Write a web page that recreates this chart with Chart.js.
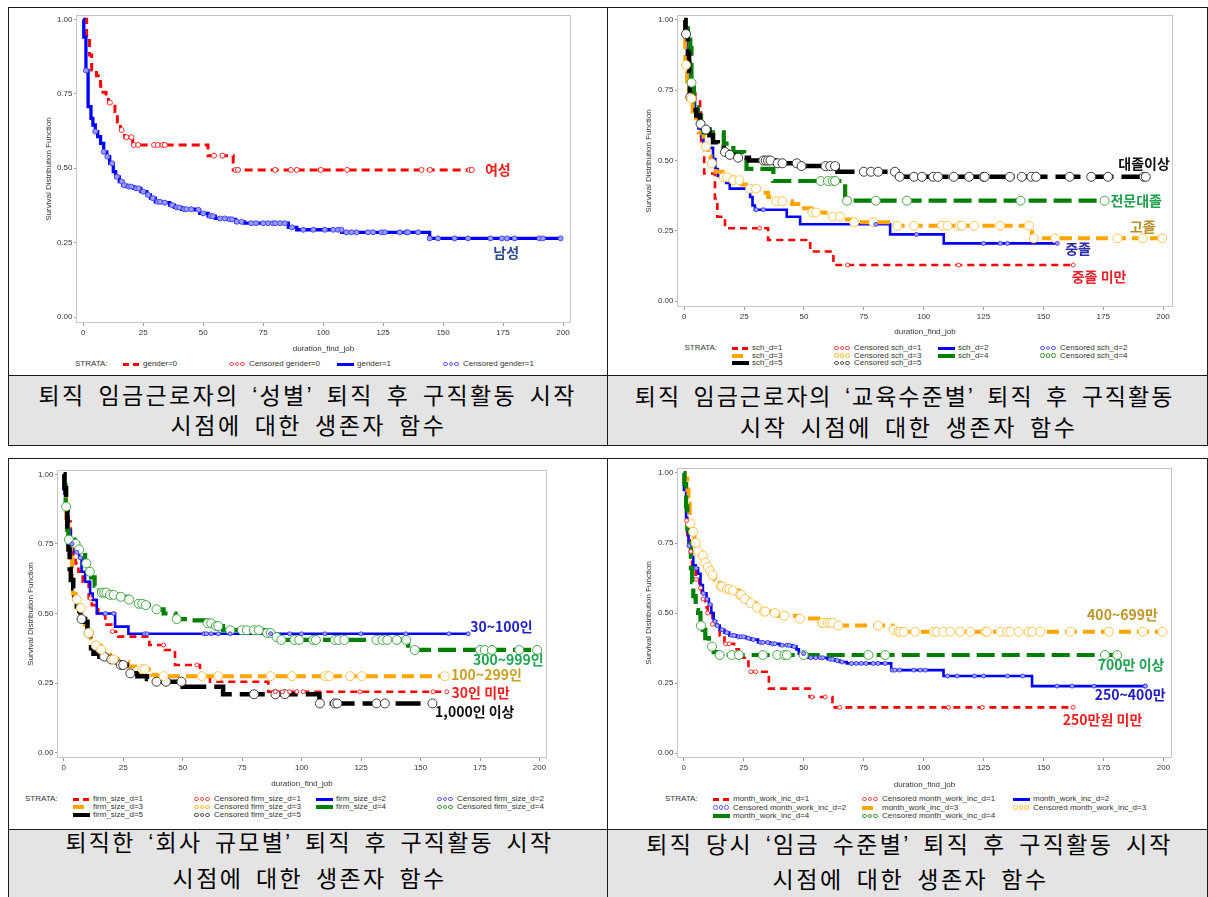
<!DOCTYPE html>
<html lang="ko">
<head>
<meta charset="utf-8">
<title>생존자 함수</title>
<script src="https://cdn.jsdelivr.net/npm/chart.js@4.4.1/dist/chart.umd.min.js"></script>
<style>
html,body{margin:0;padding:0;background:#fff;}
body{position:relative;width:1208px;height:897px;overflow:hidden;}
canvas{position:absolute;z-index:2;}
.bg{position:absolute;background:#e4e4e4;z-index:1;}
.ln{position:absolute;background:#1a1a1a;z-index:5;}
.cap{position:absolute;z-index:3;white-space:nowrap;font-family:"Noto Sans CJK KR","Noto Sans",sans-serif;font-size:23px;line-height:24px;color:#000;word-spacing:4px;}
.q{font-family:"Liberation Sans",Arial,sans-serif;}
.lg{position:absolute;z-index:3;white-space:nowrap;font-family:"Liberation Sans",Arial,sans-serif;font-size:8px;line-height:8px;height:8px;color:#333;}
.sym{position:absolute;top:0;left:0;height:8px;width:17px;}
.bar{position:absolute;}
.dot{position:absolute;box-sizing:border-box;width:4.5px;height:4.5px;border-radius:50%;border:1px solid;top:1.8px;}
</style>
</head>
<body>
<script>
// ---------------- DATA ----------------
const xTickValues = [0, 25, 50, 75, 100, 125, 150, 175, 200];
const xTickLabels = ['0', '25', '50', '75', '100', '125', '150', '175', '200'];
const yTickValues = [0, 0.25, 0.5, 0.75, 1];
const yTickLabels = ['0.00', '0.25', '0.50', '0.75', '1.00'];
const xAxisTitle = 'duration_find_job';
const yAxisTitle = 'Survival Distribution Function';
const strataLabel = 'STRATA:';

// Panel 1 : gender
const genderStrata = ['gender=0', 'gender=1'];
const genderLabels = ['여성', '남성'];
const gender0Time = [0, 1.4, 2.6, 3.5, 5.5, 7.2, 8.2, 9.5, 10.5, 13.2, 14.2, 15.5, 17.2, 20.6, 52, 62.5, 162];
const gender0Surv = [1, 0.94, 0.88, 0.83, 0.81, 0.775, 0.755, 0.74, 0.72, 0.69, 0.655, 0.628, 0.604, 0.578, 0.542, 0.494, 0.494];
const gender0Cens = [11.1, 16, 18, 20.1, 21.1, 22.9, 29.5, 31, 33, 34, 54.5, 58, 63.5, 64.5, 80, 86.5, 89, 99, 110, 141, 144.5, 161, 162];
const gender1Time = [0, 0.2, 1.1, 2, 3.2, 4, 5, 6, 7.2, 8.5, 9.8, 11, 12.5, 13.5, 15, 16.5, 18, 21, 24, 26.5, 28, 30, 33, 36, 38, 41, 46.5, 48.5, 52, 55, 60, 63.5, 67, 85.5, 89, 107.7, 144.4, 199];
const gender1Surv = [1, 0.94, 0.828, 0.707, 0.667, 0.645, 0.623, 0.606, 0.583, 0.555, 0.539, 0.516, 0.488, 0.471, 0.455, 0.443, 0.438, 0.432, 0.421, 0.41, 0.399, 0.387, 0.384, 0.376, 0.368, 0.362, 0.36, 0.348, 0.339, 0.331, 0.328, 0.32, 0.315, 0.301, 0.293, 0.2845, 0.264, 0.264];
const gender1Cens = [1.1, 5, 8.5, 10, 12, 14, 16, 17, 19, 20, 22, 23, 25, 27, 29, 31, 32, 34, 37, 39, 40, 42, 43, 45, 48, 50, 53, 54, 57, 59, 61, 62, 64, 66, 70, 72, 75, 77, 79, 80, 82, 84, 87, 91.7, 95.9, 100.7, 104.2, 106.2, 107.6, 109.7, 111.8, 113.9, 118.7, 120.8, 124.3, 125.7, 131.9, 134.7, 135.4, 139.6, 144.4, 147.9, 154.8, 160.4, 169.8, 174.5, 176.6, 179.8, 190.2, 191.6, 199];

// Panel 2 : education
const schStrata = ['sch_d=1', 'sch_d=2', 'sch_d=3', 'sch_d=4', 'sch_d=5'];
const schLabels = ['중졸 미만', '중졸', '고졸', '전문대졸', '대졸이상'];
const sch1Time = [0, 0.5, 1.2, 1.8, 2.6, 4.6, 6.6, 7, 8.3, 12.8, 13.8, 17, 35, 52.6, 62.3, 162.5];
const sch1Surv = [1, 0.95, 0.88, 0.8, 0.74, 0.71, 0.69, 0.56, 0.454, 0.365, 0.30, 0.259, 0.217, 0.176, 0.128, 0.128];
const sch1Cens = [31.4, 68.2, 114.6, 162.5];
const sch2Time = [0, 0.3, 1, 1.5, 2.5, 3.5, 4.5, 5.9, 7.3, 8, 9.5, 12, 13, 14, 17.5, 19, 27.5, 28.5, 29.5, 42.8, 48.4, 86, 108.4, 155.8];
const sch2Surv = [1, 0.96, 0.9, 0.85, 0.78, 0.72, 0.68, 0.614, 0.58, 0.56, 0.545, 0.505, 0.47, 0.445, 0.42, 0.40, 0.37, 0.34, 0.325, 0.30, 0.273, 0.237, 0.205, 0.205];
const sch2Cens = [30, 33, 80, 97, 125, 132, 135, 155.8];
const sch3Time = [0, 0.4, 1.2, 2, 3.5, 6, 8, 10, 11, 13, 16, 20, 24, 27, 31, 35, 38, 45, 50, 53, 59, 66, 70, 86, 145.3, 199.7];
const sch3Surv = [1, 0.84, 0.78, 0.72, 0.65, 0.6, 0.55, 0.515, 0.49, 0.46, 0.44, 0.43, 0.415, 0.40, 0.385, 0.37, 0.355, 0.345, 0.33, 0.315, 0.30, 0.29, 0.28, 0.268, 0.223, 0.223];
const sch3Cens = [0.7, 3, 9, 11.5, 16.5, 18, 20.5, 23, 27.5, 30, 38.5, 41, 53.5, 55, 62, 65, 71, 79, 89, 96, 107.7, 110, 115, 116, 121, 132, 144, 146, 155, 181, 191.5, 199.7];
const sch4Time = [0, 0.5, 1.5, 2.5, 3, 4, 5.5, 7, 8, 16.5, 20.5, 25, 26, 37.2, 67.2, 175.6];
const sch4Surv = [1, 0.97, 0.93, 0.9, 0.777, 0.69, 0.66, 0.62, 0.60, 0.56, 0.53, 0.51, 0.47, 0.427, 0.357, 0.357];
const sch4Cens = [3, 57, 60, 62, 63, 68, 80, 93, 140.5, 175.6];
const sch5Time = [0, 0.5, 1.5, 2, 2.3, 3.5, 5, 6.5, 8.5, 10.5, 12, 14, 16.5, 18.5, 22, 27, 38, 48, 64, 89, 192.8];
const sch5Surv = [1, 0.95, 0.88, 0.8, 0.725, 0.68, 0.66, 0.63, 0.61, 0.59, 0.565, 0.545, 0.53, 0.52, 0.51, 0.50, 0.49, 0.48, 0.46, 0.442, 0.442];
const sch5Cens = [0.7, 2.5, 6.8, 9, 17, 19, 22.5, 33, 34, 35, 36, 39, 41, 47, 49, 59, 61, 63, 75, 78, 81, 88, 90, 96, 99.3, 104, 106, 112.6, 119, 125, 125.5, 136, 141, 145, 147, 161, 170, 177, 192, 192.8];

// Panel 3 : firm size
const firmStrata = ['firm_size_d=1', 'firm_size_d=2', 'firm_size_d=3', 'firm_size_d=4', 'firm_size_d=5'];
const firmLabels = ['30인 미만', '30~100인', '100~299인', '300~999인', '1,000인 이상'];
const firm1Time = [0, 0.5, 1, 2, 3, 4, 5, 6.2, 8, 10.5, 11.8, 14.5, 17.5, 20, 23, 36, 42.5, 46.8, 57.3, 61.5, 86, 161];
const firm1Surv = [1, 0.95, 0.9, 0.83, 0.75, 0.70, 0.68, 0.65, 0.614, 0.555, 0.53, 0.495, 0.46, 0.435, 0.417, 0.387, 0.369, 0.315, 0.279, 0.255, 0.219, 0.219];
const firm1Cens = [11.2, 20.5, 42, 56, 89, 92, 95, 98, 100.7, 124.5, 155.3, 161];
const firm2Time = [0, 0.3, 1, 2, 3, 4.5, 6.5, 7.5, 9, 11.1, 12.2, 13.9, 21.6, 27.2, 170];
const firm2Surv = [1, 0.93, 0.85, 0.80, 0.75, 0.72, 0.70, 0.65, 0.614, 0.572, 0.549, 0.50, 0.453, 0.427, 0.427];
const firm2Cens = [3.5, 5.5, 7, 17.5, 21, 34, 35, 59, 60, 62, 65, 70, 87, 95, 100, 109.8, 124.9, 143.8, 161.9, 170];
const firm3Time = [0, 0.3, 1, 2, 3, 3.5, 4, 5, 6, 7, 7.5, 9, 10, 11.5, 13, 15.5, 17, 19.5, 23, 27, 30, 37, 39, 160.5];
const firm3Surv = [1, 0.96, 0.83, 0.75, 0.70, 0.62, 0.57, 0.55, 0.53, 0.52, 0.475, 0.46, 0.43, 0.41, 0.385, 0.37, 0.35, 0.335, 0.325, 0.31, 0.30, 0.28, 0.275, 0.275];
const firm3Cens = [5.5, 7.2, 10.5, 13.5, 15.8, 21, 33, 34, 42, 58, 65, 87, 96, 110, 111.6, 120.3, 125.2, 160.2];
const firm4Time = [0, 0.3, 0.8, 1.5, 2, 4.5, 6, 7.5, 9, 10, 11.5, 13, 15, 19, 23, 27, 31, 34, 37, 42, 47, 52, 60, 63, 67, 85, 89, 91, 144.8, 199];
const firm4Surv = [1, 0.96, 0.884, 0.80, 0.765, 0.75, 0.73, 0.71, 0.68, 0.65, 0.63, 0.60, 0.575, 0.567, 0.56, 0.55, 0.535, 0.53, 0.515, 0.50, 0.48, 0.475, 0.465, 0.455, 0.44, 0.43, 0.415, 0.405, 0.369, 0.369];
const firm4Cens = [1, 2.2, 5, 6.5, 9.5, 11, 16, 17, 18, 19.5, 21, 24, 27.5, 31.5, 33, 34.5, 39, 47.5, 60.5, 62, 64, 65, 70, 75, 77, 80, 82, 85.5, 87, 89.5, 91.5, 97, 99, 104.9, 106, 114, 115.5, 118, 131.5, 134, 136, 140, 144, 147.6, 175, 177, 180, 191.5, 199];
const firm5Time = [0, 0.3, 1, 1.5, 2, 2.5, 3, 4, 4.5, 5.5, 6.5, 7, 9, 10, 11, 11.5, 12.5, 15, 18, 22, 24, 26.5, 28, 31, 35, 37, 50, 67, 107.5, 155];
const firm5Surv = [1, 0.95, 0.88, 0.80, 0.73, 0.66, 0.62, 0.59, 0.555, 0.525, 0.51, 0.48, 0.47, 0.43, 0.40, 0.375, 0.355, 0.345, 0.335, 0.325, 0.315, 0.30, 0.285, 0.275, 0.265, 0.255, 0.237, 0.21, 0.177, 0.177];
const firm5Cens = [7.5, 10.5, 17, 20, 24, 25, 28, 39, 43, 49.5, 80, 89, 93, 107.7, 114, 115, 131.5, 135, 155];

// Panel 4 : wage level
const incStrata = ['month_work_inc_d=1', 'month_work_inc_d=2', 'month_work_inc_d=3', 'month_work_inc_d=4'];
const incLabels = ['250만원 미만', '250~400만', '400~699만', '700만 이상'];
const inc1Time = [0, 0.3, 1, 1.5, 2.5, 3.5, 5, 6.5, 7.5, 9, 10, 12, 14, 15, 17, 21, 23, 27, 35.5, 52.5, 62, 162.3];
const inc1Surv = [1, 0.92, 0.83, 0.76, 0.72, 0.67, 0.62, 0.59, 0.55, 0.52, 0.50, 0.46, 0.44, 0.42, 0.39, 0.37, 0.34, 0.29, 0.23, 0.20, 0.163, 0.163];
const inc1Cens = [1.2, 3, 5.2, 7, 8, 10, 12, 17.5, 19, 28, 30, 53.5, 59, 65, 110.4, 124.4, 162.3];
const inc2Time = [0, 0.1, 1, 1.5, 2, 3, 4, 5, 6, 7, 8, 9.5, 10.5, 11.5, 12.5, 13.5, 15, 17, 19, 22, 26, 28, 31, 36, 40, 45, 47, 48, 51, 52, 60, 63, 65, 68, 86.5, 108.3, 145.2, 192.5];
const inc2Surv = [1, 0.94, 0.84, 0.79, 0.74, 0.70, 0.67, 0.66, 0.64, 0.60, 0.57, 0.55, 0.53, 0.50, 0.47, 0.455, 0.44, 0.43, 0.42, 0.415, 0.41, 0.405, 0.395, 0.39, 0.385, 0.38, 0.37, 0.355, 0.35, 0.34, 0.335, 0.33, 0.325, 0.32, 0.296, 0.275, 0.239, 0.239];
const inc2Cens = [2.2, 5.2, 8.2, 9.7, 11, 13, 14, 16, 18, 20, 21, 23, 24, 25, 27, 29, 32, 33, 35, 37, 38, 41, 43, 44, 46, 50, 53, 55, 57, 58, 61, 62, 64, 66, 70, 72, 74, 76, 79, 81, 84, 87, 88, 90, 95.9, 98.6, 100.7, 110, 114, 121.2, 125, 135, 141.3, 155.6, 161.9, 171, 192.2, 192.5];
const inc3Time = [0, 0.5, 1.5, 2, 2.5, 3.5, 4.5, 5.5, 7, 8.5, 9.5, 10.5, 11.5, 13, 15, 17, 20, 23, 25, 27, 30, 33, 37, 39, 48, 57.5, 64, 87, 89, 199.5];
const inc3Surv = [1, 0.98, 0.94, 0.89, 0.82, 0.79, 0.75, 0.72, 0.705, 0.68, 0.665, 0.65, 0.635, 0.62, 0.595, 0.585, 0.58, 0.565, 0.55, 0.535, 0.52, 0.505, 0.50, 0.49, 0.48, 0.465, 0.455, 0.44, 0.433, 0.433];
const inc3Cens = [2.8, 4, 5, 6, 8, 9, 10, 11, 12, 15.5, 16, 18, 19, 20.5, 23.5, 24, 25.5, 28, 30.5, 33.5, 34, 38, 42, 48.5, 57.8, 58, 60, 61, 62, 64.5, 81, 87.5, 89.5, 90.3, 91.7, 96.5, 104.2, 105.5, 108.3, 111.1, 115.3, 119.5, 125.7, 126.4, 132, 134.8, 136.2, 139.6, 143.8, 145.2, 148.7, 161.2, 177.2, 191.4, 199.5];
const inc4Time = [0, 0.3, 1, 1.5, 2.5, 3, 3.5, 4, 5, 6, 7, 8, 9, 10.5, 11.5, 12.5, 14, 180.7];
const inc4Surv = [1, 0.96, 0.88, 0.80, 0.75, 0.66, 0.61, 0.56, 0.51, 0.50, 0.455, 0.44, 0.41, 0.40, 0.38, 0.36, 0.35, 0.35];
const inc4Cens = [7.2, 11.8, 15, 20, 23, 33, 39, 42, 43, 50, 77, 84, 175.6, 180.7];

const captions = [
  ['퇴직 임금근로자의 ‘성별’ 퇴직 후 구직활동 시작', '시점에 대한 생존자 함수'],
  ['퇴직 임금근로자의 ‘교육수준별’ 퇴직 후 구직활동', '시작 시점에 대한 생존자 함수'],
  ['퇴직한 ‘회사 규모별’ 퇴직 후 구직활동 시작', '시점에 대한 생존자 함수'],
  ['퇴직 당시 ‘임금 수준별’ 퇴직 후 구직활동 시작', '시점에 대한 생존자 함수']
];

// ---------------- STYLES ----------------
const FF = '"Liberation Sans", Arial, sans-serif';
const KF = '"Noto Sans CJK KR", "Noto Sans", sans-serif';
const ST = {
  red1:   {color:'#ff0000', w:3,   dash:[8,5],  censR:2.5, censStroke:'#ff2a2a', censFill:'#ffffff', legDash:[6,4], legW:3, legCens:'#ff5050', z:2},
  blue1:  {color:'#0000ff', w:3.3, dash:[],     censR:2.5, censStroke:'#4848ff', censFill:'#9c9cff', legDash:[],   legW:3, legCens:'#5a5aff', z:1},
  red:    {color:'#ff0000', w:2.6, dash:[7,5],  censR:2,   censStroke:'#ff3030', censFill:'#ffffff', legDash:[6,4], legW:3, legCens:'#ff5050', z:5},
  blue:   {color:'#0000ff', w:2.6, dash:[],     censR:2,   censStroke:'#4040ff', censFill:'#a8a8ff', legDash:[],   legW:3, legCens:'#5a5aff', z:4},
  orange: {color:'#ffa500', w:4,   dash:[12,6], censR:4.5, censStroke:'#ffc44d', censFill:'#ffffff', legDash:[11,7], legW:4, legCens:'#ffbb33', z:3},
  green:  {color:'#008000', w:4.2, dash:[18,7], censR:4.5, censStroke:'#44a844', censFill:'#ffffff', legDash:[],   legW:4, legCens:'#3a9a3a', z:2},
  black:  {color:'#000000', w:4.5, dash:[25,8], censR:4.5, censStroke:'#3a3a3a', censFill:'#ffffff', legDash:[],   legW:4.5, legCens:'#555555', z:1}
};

const panels = [
  {strata:genderStrata, labels:genderLabels, styles:[ST.red1, ST.blue1],
   time:[gender0Time, gender1Time], surv:[gender0Surv, gender1Surv], cens:[gender0Cens, gender1Cens]},
  {strata:schStrata, labels:schLabels, styles:[ST.red, ST.blue, ST.orange, ST.green, ST.black],
   time:[sch1Time, sch2Time, sch3Time, sch4Time, sch5Time], surv:[sch1Surv, sch2Surv, sch3Surv, sch4Surv, sch5Surv], cens:[sch1Cens, sch2Cens, sch3Cens, sch4Cens, sch5Cens]},
  {strata:firmStrata, labels:firmLabels, styles:[ST.red, ST.blue, ST.orange, ST.green, ST.black],
   time:[firm1Time, firm2Time, firm3Time, firm4Time, firm5Time], surv:[firm1Surv, firm2Surv, firm3Surv, firm4Surv, firm5Surv], cens:[firm1Cens, firm2Cens, firm3Cens, firm4Cens, firm5Cens]},
  {strata:incStrata, labels:incLabels, styles:[ST.red, ST.blue, ST.orange, ST.green],
   time:[inc1Time, inc2Time, inc3Time, inc4Time], surv:[inc1Surv, inc2Surv, inc3Surv, inc4Surv], cens:[inc1Cens, inc2Cens, inc3Cens, inc4Cens]}
];

// ---------------- LAYOUT ----------------
const layouts = [
  {cell:[8,8], frame:{l:77,t:16,r:570,b:322}, x0:83.3, x200:563, y1:19.3, y0:317, yTitleX:49, xTitleY:349,
   legend:{strataX:75, cols:[123,229,337,443], rows:[364]},
   caption:[[38.6,574.4,396],[170.6,444,426]],
   labelAt:[[172.8,0.494],[176.3,0.215]], labelColor:['#f21c1c','#2c4a92']},
  {cell:[608,8], frame:{l:678,t:16,r:1172,b:306}, x0:684.3, x200:1163, y1:20, y0:301, yTitleX:649, xTitleY:332,
   legend:{strataX:684.5, cols:[732,834,938,1040], rows:[348,355.5,363]},
   caption:[[634.8,1172.5,397],[740,1075,428]],
   labelAt:[[173.3,0.085],[164.5,0.185],[191.5,0.263],[188.8,0.356],[192.1,0.4875]],
   labelColor:['#e8202a','#2a2aa5','#b8902a','#21a04f','#111111']},
  {cell:[8,458], frame:{l:58,t:471,r:546,b:757}, x0:63.7, x200:539.5, y1:474.3, y0:752.7, yTitleX:31, xTitleY:784,
   legend:{strataX:25, cols:[73,194,316,437], rows:[799,807,815]},
   caption:[[65.4,551.4,843],[172.6,444.3,879]],
   labelAt:[[175.3,0.2144],[184,0.4515],[177.7,0.279],[186.9,0.333],[172.8,0.146]],
   labelColor:['#f02020','#2222cc','#c9a020','#1ea552','#111111']},
  {cell:[608,458], frame:{l:678,t:469,r:1171,b:757}, x0:683.7, x200:1163.5, y1:473, y0:753, yTitleX:649, xTitleY:784.5,
   legend:{strataX:665, cols:[713,862,1013], rows:[799,807.5,816]},
   caption:[[646.3,1170.6,845],[772.6,1046.2,880]],
   labelAt:[[174.6,0.118],[186.1,0.207],[182.9,0.493],[186.5,0.314]],
   labelColor:['#f02020','#2020c0','#c0952a','#20a050']}
];

// ---------------- HELPERS ----------------
function el(cls, x, y, w, h) {
  const d = document.createElement('div'); d.className = cls;
  d.style.left = x + 'px'; d.style.top = y + 'px';
  if (w != null) d.style.width = w + 'px';
  if (h != null) d.style.height = h + 'px';
  document.body.appendChild(d); return d;
}
function survAt(T, S, t) { let v = S[0]; for (let i = 0; i < T.length && T[i] <= t; i++) v = S[i]; return v; }

function legendItem(x, y, kind, st, text) {
  const d = el('lg', x, y - 4);
  d.style.paddingLeft = '20px';
  d.textContent = text;
  const s = document.createElement('div'); s.className = 'sym';
  if (kind === 'line') {
    const pat = st.legDash.length ? st.legDash : [17, 0];
    let x0 = 0;
    while (x0 < 17) {
      const w = Math.min(pat[0], 17 - x0);
      const b = document.createElement('div'); b.className = 'bar';
      b.style.left = x0 + 'px'; b.style.width = w + 'px'; b.style.height = st.legW + 'px';
      b.style.top = (4 - st.legW / 2) + 'px'; b.style.background = st.color;
      s.appendChild(b);
      if (pat[1] === 0) break;
      x0 += pat[0] + pat[1];
    }
  } else {
    for (let k = 0; k < 3; k++) {
      const c = document.createElement('div'); c.className = 'dot';
      c.style.left = (k * 5.5) + 'px'; c.style.borderColor = st.legCens;
      s.appendChild(c);
    }
  }
  d.appendChild(s);
}

function captionLine(text, x0, x1, yc) {
  const d = el('cap', x0, yc - 14);
  Array.from(text).forEach(ch => {
    if (ch === '‘' || ch === '’') {
      const q = document.createElement('span'); q.className = 'q'; q.textContent = ch; d.appendChild(q);
    } else {
      d.appendChild(document.createTextNode(ch));
    }
  });
  const w = d.getBoundingClientRect().width;
  const n = Array.from(text).length;
  d.style.letterSpacing = ((x1 - x0 - w) / (n - 1)) + 'px';
}

const framePlugin = {
  id: 'kmFrame',
  beforeDatasetsDraw(chart) {
    const a = chart.chartArea, c = chart.ctx;
    c.save(); c.strokeStyle = '#c6c6c6'; c.lineWidth = 1;
    c.strokeRect(Math.round(a.left) - 0.5, Math.round(a.top) - 0.5, Math.round(a.right - a.left) + 1, Math.round(a.bottom - a.top) + 1);
    c.restore();
  }
};

function drawPanel(L, P) {
  const left = L.cell[0], top = L.frame.t - 12;
  const bottom = Math.round(L.xTitleY + 7);
  const W = 600, H = bottom - top;
  const cv = document.createElement('canvas');
  cv.width = W; cv.height = H;
  cv.style.left = left + 'px'; cv.style.top = top + 'px';
  cv.style.width = W + 'px'; cv.style.height = H + 'px';
  document.body.appendChild(cv);
  const f = L.frame;
  const kx = (L.x200 - L.x0) / 200, ky = L.y0 - L.y1;
  const xmin = -(L.x0 - f.l) / kx, xmax = 200 + (f.r - L.x200) / kx;
  const ymax = 1 + (L.y1 - f.t) / ky, ymin = -(f.b - L.y0) / ky;
  const yW = f.l - left - 4;
  const xH = bottom - f.b;
  const datasets = [];
  P.strata.forEach((name, i) => {
    const st = P.styles[i];
    datasets.push({
      type: 'line', label: name,
      data: P.time[i].map((t, j) => ({x: t, y: P.surv[i][j]})),
      borderColor: st.color, borderWidth: st.w, borderDash: st.dash,
      stepped: 'before', pointRadius: 0, pointHoverRadius: 0, fill: false,
      borderCapStyle: 'butt', borderJoinStyle: 'miter', order: 10 + st.z
    });
  });
  P.strata.forEach((name, i) => {
    const st = P.styles[i];
    datasets.push({
      type: 'scatter', label: 'Censored ' + name,
      data: P.cens[i].map(t => ({x: t, y: survAt(P.time[i], P.surv[i], t)})),
      showLine: false, pointStyle: 'circle',
      pointRadius: st.censR, pointHoverRadius: st.censR, pointBorderWidth: 1,
      pointBorderColor: st.censStroke, pointBackgroundColor: st.censFill,
      borderColor: st.censStroke, backgroundColor: st.censFill, order: 1
    });
  });
  const labelPlugin = {
    id: 'kmLabels',
    afterDatasetsDraw(chart) {
      const c = chart.ctx, xs = chart.scales.x, ys = chart.scales.y;
      c.save(); c.font = 'bold 14px ' + KF; c.textAlign = 'center'; c.textBaseline = 'middle';
      P.labels.forEach((txt, i) => {
        c.fillStyle = L.labelColor[i];
        c.fillText(txt, xs.getPixelForValue(L.labelAt[i][0]), ys.getPixelForValue(L.labelAt[i][1]));
      });
      c.restore();
    }
  };
  new Chart(cv, {
    type: 'line',
    data: {datasets},
    options: {
      responsive: false, animation: false, events: [], devicePixelRatio: 1,
      layout: {padding: {top: 12, left: 4, right: left + W - f.r, bottom: 0}},
      plugins: {legend: {display: false}, tooltip: {enabled: false}},
      scales: {
        x: {
          type: 'linear', min: xmin, max: xmax,
          afterBuildTicks: s => { s.ticks = xTickValues.map(v => ({value: v})); },
          afterFit: s => { s.height = xH; },
          ticks: {autoSkip: false, maxRotation: 0, minRotation: 0, padding: 2, color: '#333', font: {family: FF, size: 8},
                  callback: (v, i) => xTickLabels[i]},
          grid: {drawOnChartArea: false, drawTicks: true, tickLength: 4, color: '#9a9a9a', tickColor: '#9a9a9a'},
          border: {display: false},
          title: {display: true, text: xAxisTitle, color: '#333', font: {family: FF, size: 8}, padding: {top: 0, bottom: bottom - L.xTitleY - 4.8}}
        },
        y: {
          type: 'linear', min: ymin, max: ymax,
          afterBuildTicks: s => { s.ticks = yTickValues.map(v => ({value: v})); },
          afterFit: s => { s.width = yW; },
          ticks: {autoSkip: false, padding: 1.5, color: '#333', font: {family: FF, size: 8},
                  callback: (v, i) => yTickLabels[i]},
          grid: {drawOnChartArea: false, drawTicks: true, tickLength: 3, color: '#9a9a9a', tickColor: '#9a9a9a'},
          border: {display: false},
          title: {display: true, text: yAxisTitle, color: '#333', font: {family: FF, size: 8}, padding: {top: L.yTitleX - (left + 4) - 4.8, bottom: 0}}
        }
      }
    },
    plugins: [framePlugin, labelPlugin]
  });

  // legend
  const lg = L.legend;
  const s0 = el('lg', lg.strataX, lg.rows[0] - 4); s0.textContent = strataLabel;
  const items = [];
  P.strata.forEach((name, i) => { items.push(['line', P.styles[i], name]); items.push(['cens', P.styles[i], 'Censored ' + name]); });
  items.forEach((it, k) => {
    const r = Math.floor(k / lg.cols.length), c = k % lg.cols.length;
    legendItem(lg.cols[c], lg.rows[r], it[0], it[1], it[2]);
  });
}

// ---------------- PAGE ----------------
el('bg', 9, 376, 598, 69); el('bg', 608, 376, 599, 69);
el('bg', 9, 830, 598, 67); el('bg', 608, 830, 599, 67);
[7, 375, 445, 458, 829].forEach(y => el('ln', 8, y, 1200, 1));
[8, 607, 1207].forEach(x => { el('ln', x, 7, 1, 439); el('ln', x, 458, 1, 439); });

layouts.forEach((L, i) => {
  drawPanel(L, panels[i]);
  captionLine(captions[i][0], L.caption[0][0], L.caption[0][1], L.caption[0][2]);
  captionLine(captions[i][1], L.caption[1][0], L.caption[1][1], L.caption[1][2]);
});
</script>
</body>
</html>
